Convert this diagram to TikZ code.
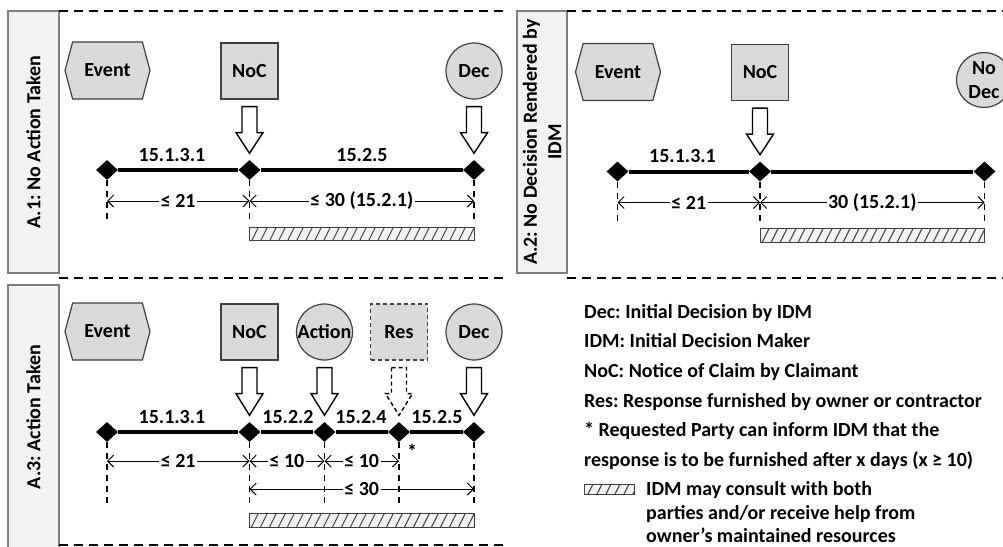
\documentclass[tikz,border=0pt]{standalone}
\usepackage{fontspec}
\setmainfont{Carlito}
\frenchspacing
\usetikzlibrary{shapes.geometric,shapes.symbols,arrows.meta,calc}

\definecolor{shapefill}{HTML}{D9D9D9}
\definecolor{shapeline}{HTML}{404040}
\definecolor{tabfill}{HTML}{F2F2F2}
\definecolor{tabline}{HTML}{7F7F7F}
\definecolor{hatchcol}{HTML}{4A4A4A}

\tikzset{
  every node/.style={font=\fontsize{20}{24.5}\selectfont\bfseries, inner sep=0pt},
  evt/.style={signal, signal to=east and west, signal pointer angle=150,
    fill=shapefill, draw=shapeline, line width=1.2pt, minimum width=85, minimum height=57},
  sq/.style={rectangle, fill=shapefill, draw=shapeline, line width=1.2pt,
    minimum width=57, minimum height=56},
  circ/.style={circle, fill=shapefill, draw=shapeline, line width=1.2pt, minimum size=56},
  dia/.style={diamond, fill=black, minimum width=22, minimum height=20},
  tab/.style={rectangle, fill=tabfill, draw=tabline, line width=1.5pt, align=center},
  pdash/.style={line width=2pt, dash pattern=on 9pt off 6pt},
  timeline/.style={line width=4pt},
  vdash/.style={line width=1.5pt, dash pattern=on 6pt off 5pt},
  dim/.style={line width=1pt, {Straight Barb[length=6pt,width=12pt]}-{Straight Barb[length=6pt,width=12pt]}},
  dimtext/.style={fill=white, inner xsep=1.5pt, inner ysep=1pt},
  harrow/.style={fill=white, draw=black, line width=1.4pt, line join=miter},
  legend/.style={anchor=base west},
}

% hollow block arrow from the bottom of a symbol down to a timeline marker
\newcommand\hollowarrow[3][]{%
  \draw[harrow,#1] let \p1=(#2.south), \p2=(#3.north) in
    (\x1-7.5pt,\y1-7pt) -- (\x1+7.5pt,\y1-7pt) -- (\x1+7.5pt,\y1-33pt)
    -- (\x1+13.5pt,\y1-33pt) -- (\x2,\y2+6.5pt) -- (\x1-13.5pt,\y1-33pt)
    -- (\x1-7.5pt,\y1-33pt) -- cycle;}

% hatched bar between two corners (top-left, bottom-right)
\newcommand\hatchbar[2]{%
  \fill[tabfill] #1 rectangle #2;
  \begin{scope}
    \clip #1 rectangle #2;
    \foreach \k in {0,...,30}
      \draw[hatchcol, line width=1.1pt] ($#1+(\k*9-12,24)$) -- ($#1+(\k*9+6,-12)$);
  \end{scope}
  \draw[shapeline, line width=1pt] #1 rectangle #2;}

\begin{document}
\begin{tikzpicture}[x=1pt,y=-1pt]
\useasboundingbox (0,0) rectangle (1003,546);
\fill[white] (0,0) rectangle (1003,546);

% ---------- panel frames ----------
\node[tab, minimum width=262, minimum height=51, rotate=90] (tabA1) at (33.5,142) {A.1: No Action Taken};
\node[tab, minimum width=262, minimum height=50, rotate=90] (tabA2) at (542,142) {A.2: No Decision Rendered by\\IDM};
\node[tab, minimum width=264, minimum height=51, rotate=90] (tabA3) at (33.5,417) {A.3: Action Taken};
\draw[pdash] (59,11) -- (508,11);
\draw[pdash] (59,278) -- (505,278);
\draw[pdash] (59,545) -- (505,545);
\draw[pdash] (567,11) -- (1003,11);
\draw[pdash] (567,278) -- (1003,278);

% ---------- A.1 ----------
\node[evt] (ev1) at (107.5,70.5) {Event};
\node[sq] (noc1) at (249.5,71) {NoC};
\node[circ] (dec1) at (474,71) {Dec};
\node[dia] (a1) at (107,170) {};
\node[dia] (a2) at (249.5,170) {};
\node[dia] (a3) at (474,170) {};
\draw[timeline] (a1) -- (a2) -- (a3);
\hollowarrow{noc1}{a2}
\hollowarrow{dec1}{a3}
\node (sa1) at (172,155) {15.1.3.1};
\node (sa2) at (362,155) {15.2.5};
\coordinate (lowA) at (0,222);
\coordinate (dimA) at (0,201);
\foreach \n in {a1,a2,a3} \draw[vdash] (\n.south) -- (\n |- lowA);
\draw[dim] (a1 |- dimA) -- node[dimtext] (da1) {≤ 21} (a2 |- dimA);
\draw[dim] (a2 |- dimA) -- node[dimtext] (da2) {≤ 30 (15.2.1)} (a3 |- dimA);
\coordinate (barAt) at (0,227);
\coordinate (barAb) at (0,240);
\hatchbar{(a2 |- barAt)}{(a3 |- barAb)}

% ---------- A.2 ----------
\node[evt] (ev2) at (618,72) {Event};
\node[sq] (noc2) at (760,72.5) {NoC};
\node[circ, minimum size=55, align=center] (nodec) at (984,80) {No\\Dec};
\node[dia] (b1) at (617.5,171.5) {};
\node[dia] (b2) at (760,171.5) {};
\node[dia] (b3) at (984.5,171.5) {};
\draw[timeline] (b1) -- (b2) -- (b3);
\hollowarrow{noc2}{b2}
\node (sb1) at (682.5,156.5) {15.1.3.1};
\coordinate (lowB) at (0,223.5);
\coordinate (dimB) at (0,202.5);
\foreach \n in {b1,b2,b3} \draw[vdash] (\n.south) -- (\n |- lowB);
\draw[dim] (b1 |- dimB) -- node[dimtext] (db1) {≤ 21} (b2 |- dimB);
\draw[dim] (b2 |- dimB) -- node[dimtext] (db2) {30 (15.2.1)} (b3 |- dimB);
\coordinate (barBt) at (0,228.5);
\coordinate (barBb) at (0,242);
\hatchbar{(b2 |- barBt)}{(b3 |- barBb)}

% ---------- A.3 ----------
\node[evt] (ev3) at (107.5,331.5) {Event};
\node[sq] (noc3) at (249.5,332) {NoC};
\node[circ] (act3) at (324.5,332) {Action};
\node[sq, dash pattern=on 4pt off 3pt] (res3) at (399,332) {Res};
\node[circ] (dec3) at (474,332) {Dec};
\node[dia] (c1) at (107,432) {};
\node[dia] (c2) at (249.5,432) {};
\node[dia] (c3) at (324.5,432) {};
\node[dia] (c4) at (399,432) {};
\node[dia] (c5) at (474,432) {};
\draw[timeline] (c1) -- (c2) -- (c3) -- (c4) -- (c5);
\hollowarrow{noc3}{c2}
\hollowarrow{act3}{c3}
\hollowarrow[dash pattern=on 4pt off 3pt]{res3}{c4}
\hollowarrow{dec3}{c5}
\node (sc1) at (172,417) {15.1.3.1};
\node (sc2) at (288,417) {15.2.2};
\node (sc3) at (361,417) {15.2.4};
\node (sc4) at (437,417) {15.2.5};
\node (star) at (412,451.5) {*};
\coordinate (lowC) at (0,508);
\coordinate (dimC) at (0,461);
\coordinate (dimD) at (0,489);
\foreach \n in {c1,c2,c3,c4,c5} \draw[vdash] (\n.south) -- (\n |- lowC);
\draw[dim] (c1 |- dimC) -- node[dimtext] (dc1) {≤ 21} (c2 |- dimC);
\draw[dim] (c2 |- dimC) -- node[dimtext] (dc2) {≤ 10} (c3 |- dimC);
\draw[dim] (c3 |- dimC) -- node[dimtext] (dc3) {≤ 10} (c4 |- dimC);
\draw[dim] (c2 |- dimD) -- node[dimtext] (dc4) {≤ 30} (c5 |- dimD);
\coordinate (barCt) at (0,513);
\coordinate (barCb) at (0,527);
\hatchbar{(c2 |- barCt)}{(c5 |- barCb)}

% ---------- legend ----------
\node[legend] (lg1) at (584,318) {Dec: Initial Decision by IDM};
\node[legend] (lg2) at (584,347.7) {IDM: Initial Decision Maker};
\node[legend] (lg3) at (584,377.4) {NoC: Notice of Claim by Claimant};
\node[legend] (lg4) at (584,407.1) {Res: Response furnished by owner or contractor};
\node[legend] (lg5) at (584,436.8) {* Requested Party can inform IDM that the};
\node[legend] (lg6) at (584,466.5) {response is to be furnished after x days (x ≥ 10)};
\coordinate (keyt) at (584,484);
\coordinate (keyb) at (634,494);
\hatchbar{(keyt)}{(keyb)}
\node[legend] (lg7) at (646,495.5) {IDM may consult with both};
\node[legend] (lg8) at (646,519.2) {parties and/or receive help from};
\node[legend] (lg9) at (646,542.9) {owner’s maintained resources};
\end{tikzpicture}
\end{document}
